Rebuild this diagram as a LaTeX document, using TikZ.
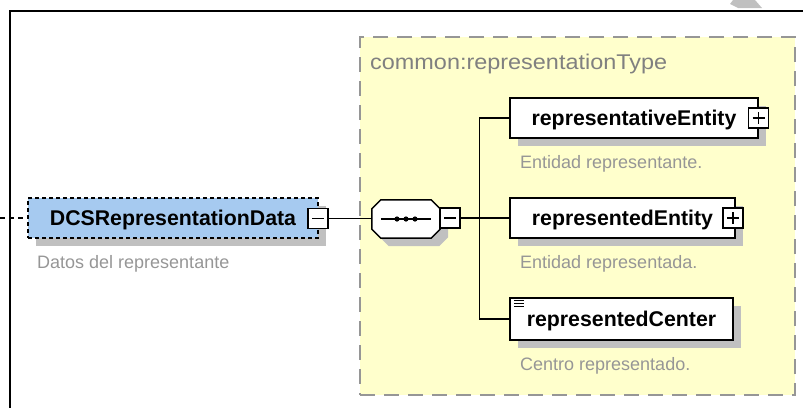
\documentclass[tikz,border=0pt]{standalone}
\usepackage{fontspec}
\setmainfont{Liberation Sans}
\newfontfamily\typefont[FakeStretch=1.1]{Liberation Sans}
\usetikzlibrary{shadows,calc}
\definecolor{boxblue}{RGB}{166,202,240}
\definecolor{typeyellow}{RGB}{255,255,204}
\definecolor{bordergray}{RGB}{150,150,150}
\definecolor{shadowgray}{RGB}{192,192,192}
\definecolor{annotgray}{RGB}{150,150,150}
\definecolor{typegray}{RGB}{128,128,128}
\newcommand\octpath[2]{($(#1.north west)+(#2,#2+9)$) -- ($(#1.north west)+(#2+9,#2)$) -- ($(#1.north east)+(#2-9,#2)$) -- ($(#1.north east)+(#2,#2+9)$) -- ($(#1.south east)+(#2,#2-9)$) -- ($(#1.south east)+(#2-9,#2)$) -- ($(#1.south west)+(#2+9,#2)$) -- ($(#1.south west)+(#2,#2-9)$) -- cycle}
\begin{document}
\begin{tikzpicture}[x=1pt,y=-1pt,
  elem/.style={draw=black, fill=white, line width=1.5pt, inner sep=0pt,
    font=\fontsize{21.3}{24}\selectfont\bfseries, text height=15pt, text depth=0pt,
    minimum height=40pt,
    general shadow={fill=shadowgray, shadow xshift=8pt, shadow yshift=-8pt}},
  pmbox/.style={draw=black, fill=white, line width=1.2pt, inner sep=0pt, minimum size=20pt},
  minusbox/.style={pmbox, path picture={\draw[line width=1.2pt] ([xshift=4pt]path picture bounding box.west) -- ([xshift=-4pt]path picture bounding box.east);}},
  plusbox/.style={pmbox, path picture={\draw[line width=1.2pt] ([xshift=4pt]path picture bounding box.west) -- ([xshift=-4pt]path picture bounding box.east) ([yshift=-4pt]path picture bounding box.north) -- ([yshift=4pt]path picture bounding box.south);}},
  annot/.style={anchor=base west, inner sep=0pt, text=annotgray, font=\fontsize{18}{20}\selectfont},
  conn/.style={draw=black, line width=1.5pt}
]
\useasboundingbox (0,0) rectangle (803,408);
% frame
\fill[shadowgray] (733,0) -- (755,0) -- (762,8) -- (738,8) -- (730,4) -- cycle;
\draw[line width=2pt] (803,11) -- (10,11) -- (10,408);
% complex type box
\node[draw=bordergray, fill=typeyellow, line width=2pt, dash pattern=on 15pt off 9pt,
  minimum width=435pt, minimum height=358pt, inner sep=0pt] (type) at (577.5,216) {};
\node[anchor=base west, inner sep=0pt, text=typegray, font=\typefont\fontsize{21.3}{24}\selectfont] (typelabel) at (370,69) {common:representationType};
% root element
\node[elem, fill=boxblue, dash pattern=on 4pt off 3pt, minimum width=290pt] (dcs) at (173,218) {DCSRepresentationData};
\node[minusbox] (dm) at (318,218.5) {};
\coordinate (in) at (0,218);
\draw[conn, dash pattern=on 5pt off 4pt] (in) -- (dcs.west);
\node[annot] (dcsann) at (37,268) {Datos del representante};
% sequence compositor
\node[minimum width=68pt, minimum height=38pt, inner sep=0pt] (seq) at (406,219) {};
\fill[shadowgray] \octpath{seq}{8};
\draw[line width=1.5pt, fill=white] \octpath{seq}{0};
\draw[line width=1.5pt] ($(seq.west)+(9,0)$) -- ($(seq.east)+(-9,0)$);
\fill ($(seq.center)+(-9,0)$) circle (2.6pt) (seq.center) circle (2.6pt) ($(seq.center)+(9,0)$) circle (2.6pt);
\node[minusbox] (sm) at (450,218) {};
\draw[conn] (dm.east) -- (seq.west |- dm.east);
% children
\node[elem, minimum width=248pt] (rE) at (634,118) {representativeEntity};
\node[plusbox] (rEp) at (758.5,118) {};
\node[annot] (rEann) at (520,168) {Entidad representante.};
\node[elem, minimum width=225pt] (rdE) at (622.5,218) {representedEntity};
\node[plusbox] (rdEp) at (733,218) {};
\node[annot] (rdEann) at (520,268) {Entidad representada.};
\node[elem, minimum width=223pt, minimum height=42pt] (rC) at (621.5,319) {representedCenter};
\draw[line width=1.2pt] ($(rC.north west)+(5,3)$) -- ++(10,0) ($(rC.north west)+(5,6)$) -- ++(10,0) ($(rC.north west)+(5,9)$) -- ++(10,0);
\node[annot] (rCann) at (520,370) {Centro representado.};
% connectors
\draw[conn] (sm.east) -- (rdE.west);
\draw[conn] (rE.west) -- ++(-30,0) |- (rC.west);
\end{tikzpicture}
\end{document}
